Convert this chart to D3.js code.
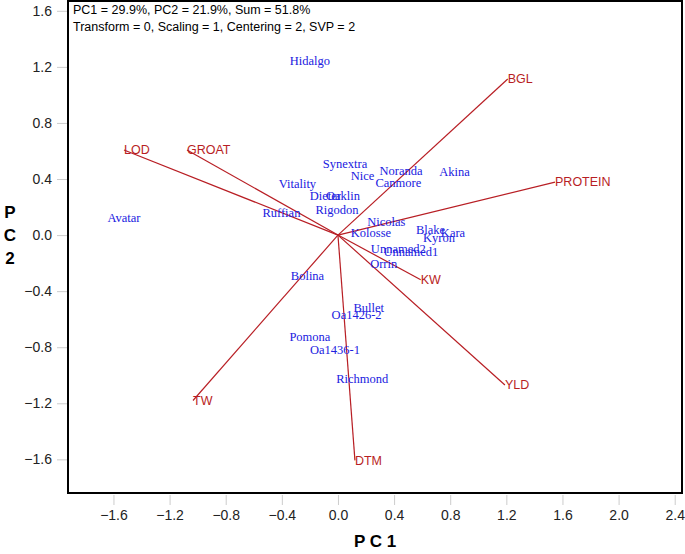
<!DOCTYPE html>
<html><head><meta charset="utf-8">
<script src="https://cdn.jsdelivr.net/npm/d3@7"></script>
<style>body{margin:0;background:#fff}svg{display:block}</style>
</head><body>
<script>
// Genotypes (PC1, PC2)
const genoNames = ["Hidalgo","Avatar","Ruffian","Vitality","Dieter","Oaklin","Rigodon","Synextra","Nice","Noranda","Canmore","Akina","Nicolas","Kolosse","Blake","Kara","Kyron","Unnamed2","Unnamed1","Orrin","Bolina","Bullet","Oa1426-2","Pomona","Oa1436-1","Richmond"];
const genoPC1 = [-0.20,-1.525,-0.403,-0.289,-0.09,0.036,-0.007,0.05,0.175,0.45,0.43,0.83,0.345,0.235,0.66,0.82,0.72,0.43,0.52,0.326,-0.217,0.219,0.133,-0.20,-0.021,0.173];
const genoPC2 = [1.243,0.121,0.157,0.364,0.279,0.279,0.179,0.507,0.421,0.457,0.371,0.45,0.093,0.021,0.036,0.014,-0.021,-0.10,-0.12,-0.207,-0.286,-0.521,-0.571,-0.721,-0.814,-1.021];
// Traits (vectors)
const traitNames = ["LOD","GROAT","BGL","PROTEIN","KW","YLD","DTM","TW"];
const traitPC1 = [-1.525,-1.076,1.21,1.547,0.59,1.19,0.121,-1.033];
const traitPC2 = [0.607,0.607,1.114,0.378,-0.318,-1.07,-1.607,-1.18];
const xTicks = [-1.6,-1.2,-0.8,-0.4,0.0,0.4,0.8,1.2,1.6,2.0,2.4];
const yTicks = [-1.6,-1.2,-0.8,-0.4,0.0,0.4,0.8,1.2,1.6];
const infoLines = ["PC1 = 29.9%, PC2 = 21.9%, Sum = 51.8%","Transform = 0, Scaling = 1, Centering = 2, SVP = 2"];

const W=685,H=554;
const L=68,R=682,T=1,B=493;
const svg=d3.select("body").append("svg").attr("width",W).attr("height",H);
const x=d3.scaleLinear().domain([-1.924,2.452]).range([L,R]);
const y=d3.scaleLinear().domain([-1.84,1.67]).range([B,T]);

const fmt=d3.format(".1f");
const xa=svg.append("g").attr("transform",`translate(0,${B+2})`)
  .call(d3.axisBottom(x).tickValues(xTicks).tickFormat(fmt).tickSize(10).tickPadding(5));
const ya=svg.append("g").attr("transform",`translate(${L-1},0)`)
  .call(d3.axisLeft(y).tickValues(yTicks).tickFormat(fmt).tickSize(10).tickPadding(5));
[xa,ya].forEach(a=>{
  a.select(".domain").remove();
  a.selectAll(".tick line").attr("stroke","#ccc");
  a.selectAll(".tick text").attr("fill","#222").style("font-family","Arial, 'Liberation Sans', sans-serif").style("font-size","14px");
});

svg.append("rect").attr("x",L).attr("y",T).attr("width",R-L).attr("height",B-T)
  .attr("fill","none").attr("stroke","#000").attr("stroke-width",2);

const g=svg.append("g");
const vx0=x(0),vy0=y(0);
g.selectAll("line.v").data(traitNames).join("line").attr("class","v")
  .attr("x1",vx0).attr("y1",vy0)
  .attr("x2",(d,i)=>x(traitPC1[i])).attr("y2",(d,i)=>y(traitPC2[i]))
  .attr("stroke","#b81e24").attr("stroke-width",1.2);
g.selectAll("text.t").data(traitNames).join("text").attr("class","t")
  .attr("x",(d,i)=>x(traitPC1[i])).attr("y",(d,i)=>y(traitPC2[i]))
  .attr("dy","0.35em").attr("fill","#b81e24")
  .style("font-family","Arial, 'Liberation Sans', sans-serif").style("font-size","12.5px")
  .text(d=>d);
g.selectAll("text.g").data(genoNames).join("text").attr("class","g")
  .attr("x",(d,i)=>x(genoPC1[i])).attr("y",(d,i)=>y(genoPC2[i]))
  .attr("dy","0.35em").attr("text-anchor","middle").attr("fill","#2020e0")
  .style("font-family","'Liberation Serif','Times New Roman', serif").style("font-size","12.5px")
  .text(d=>d);

svg.selectAll("text.info").data(infoLines).join("text").attr("class","info")
  .attr("x",73).attr("y",(d,i)=>14+i*17)
  .attr("fill","#000").style("font-family","Arial, 'Liberation Sans', sans-serif").style("font-size","12.5px")
  .text(d=>d);

svg.append("text").attr("x",(L+R)/2).attr("y",547).attr("text-anchor","middle")
  .style("font-family","Arial, 'Liberation Sans', sans-serif").style("font-size","17px").style("font-weight","bold")
  .text("P C 1");
svg.selectAll("text.yl").data(["P","C","2"]).join("text").attr("class","yl")
  .attr("x",10).attr("y",(d,i)=>218+i*23).attr("text-anchor","middle")
  .style("font-family","Arial, 'Liberation Sans', sans-serif").style("font-size","17px").style("font-weight","bold")
  .text(d=>d);
</script>
</body></html>
